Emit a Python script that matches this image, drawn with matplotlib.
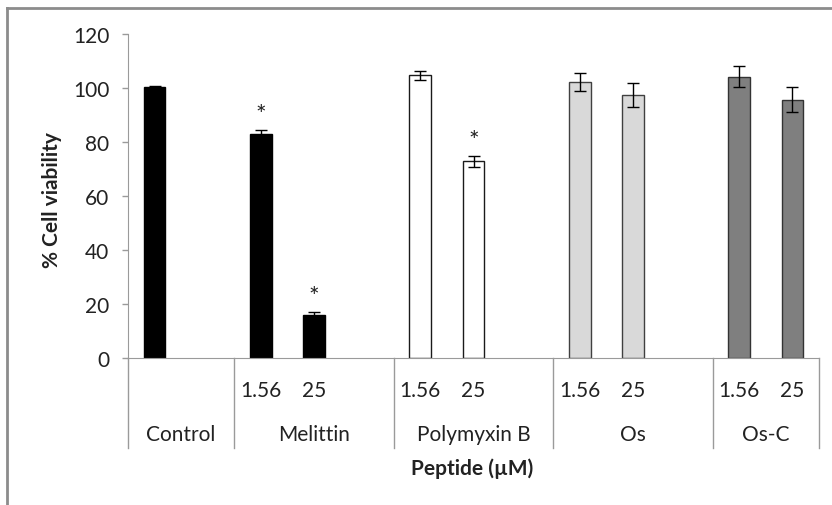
import numpy as np
import matplotlib.pyplot as plt
from matplotlib.lines import Line2D

# groups on the category axis and how many slots each one spans
groups = ['Control', 'Melittin', 'Polymyxin B', 'Os', 'Os-C']
group_slots = [2, 3, 3, 3, 2]
conc_labels = ['', '1.56', '25', '1.56', '25', '1.56', '25', '1.56', '25']

# one bar per slot index (0..12)
bar_slots = [0, 2, 3, 5, 6, 8, 9, 11, 12]
viability = [100.2, 83.0, 16.0, 104.7, 72.9, 102.2, 97.3, 104.2, 95.7]
errors = [0.7, 1.5, 1.0, 1.6, 2.0, 3.4, 4.4, 3.8, 4.5]
significant = [False, True, True, False, True, False, False, False, False]

face_colors = ['black', 'black', 'black', 'white', 'white',
               '#d9d9d9', '#d9d9d9', '#7f7f7f', '#7f7f7f']
edge_colors = ['black', 'black', 'black', '#1a1a1a', '#1a1a1a',
               '#404040', '#404040', '#333333', '#333333']

plt.rcParams['font.family'] = ['Lato', 'DejaVu Sans']
text_color = '#222222'
axis_grey = '#9a9a9a'

fig = plt.figure(figsize=(8.32, 5.06), dpi=100)
ax = fig.add_axes([128 / 832, 1 - 359 / 506, (819 - 128) / 832, (359 - 35) / 506])

x = np.array(bar_slots) + 0.5
ax.bar(x, viability, width=0.41, color=face_colors, edgecolor=edge_colors,
       linewidth=1.0, zorder=2)
ax.errorbar(x, viability, yerr=errors, fmt='none', ecolor='black',
            elinewidth=1.0, capsize=4, capthick=1.0, zorder=3)

for xi, v, e, s in zip(x, viability, errors, significant):
    if s:
        ax.text(xi, v + e + 3.0, '*', ha='center', va='baseline',
                fontsize=18, color=text_color)

n_slots = sum(group_slots)
ax.set_xlim(0, n_slots)
ax.set_ylim(0, 120)
ax.set_yticks(range(0, 121, 20))
ax.tick_params(axis='y', direction='out', length=4.5, width=1,
               color=axis_grey, labelsize=15, labelcolor=text_color, pad=9)
ax.set_xticks([])

for side in ['top', 'right']:
    ax.spines[side].set_visible(False)
ax.spines['left'].set_color(axis_grey)
ax.spines['bottom'].set_color(axis_grey)

# multi-level category axis
bounds = np.concatenate([[0], np.cumsum(group_slots)])
for b in bounds:
    ax.add_line(Line2D([b, b], [0, -33.3], color=axis_grey, lw=1,
                       transform=ax.transData, clip_on=False))

for xi, lab in zip(x, conc_labels):
    if lab:
        ax.text(xi, -11.8, lab, ha='center', va='center', fontsize=15,
                color=text_color)

for g, lo, hi in zip(groups, bounds[:-1], bounds[1:]):
    ax.text((lo + hi) / 2, -28.2, g, ha='center', va='center', fontsize=15,
            color=text_color)

fig.text(472 / 832, 1 - 469 / 506, 'Peptide (µM)', ha='center', va='center',
         fontsize=15, fontweight='bold', color=text_color)
fig.text(52 / 832, 1 - 200 / 506, '% Cell viability', ha='center', va='center',
         rotation=90, fontsize=15, fontweight='bold', color=text_color)

# outer chart frame (only top and left edges are inside the picture)
fig.add_artist(Line2D([7 / 832, 1], [1 - 9 / 506, 1 - 9 / 506],
                      color='#8c8c8c', lw=2, transform=fig.transFigure))
fig.add_artist(Line2D([7 / 832, 7 / 832], [0, 1 - 9 / 506],
                      color='#8c8c8c', lw=2, transform=fig.transFigure))

fig.savefig('out.png', dpi=100)
